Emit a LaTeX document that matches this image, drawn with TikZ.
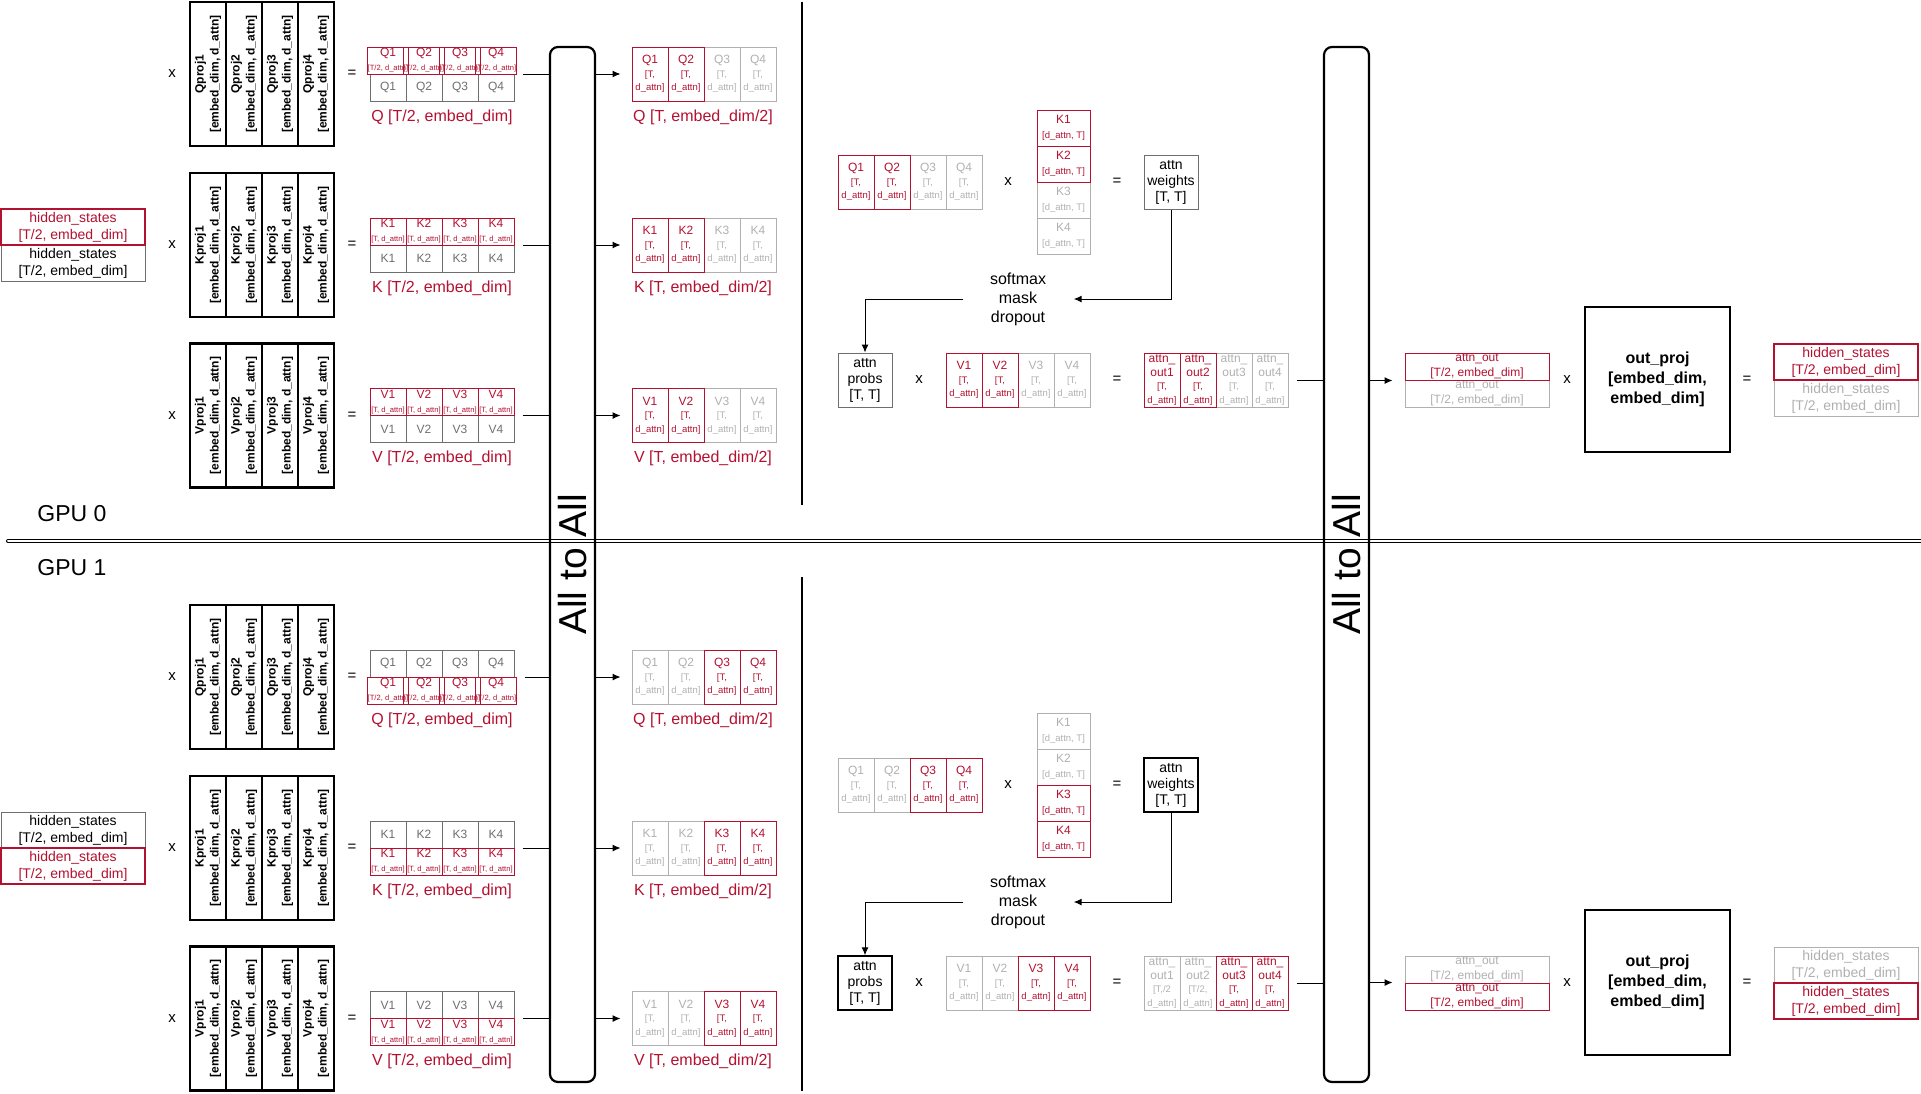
\documentclass[tikz,border=0pt]{standalone}
\usepackage{fontspec}
\setmainfont{Liberation Sans}
\usetikzlibrary{arrows.meta,positioning,fit}

\definecolor{hotred}{RGB}{180,16,48}
\definecolor{midgray}{RGB}{110,110,110}
\definecolor{palegray}{RGB}{176,176,176}

\newcommand{\setpx}[2]{\fontsize{#1}{#2}\selectfont}

\begin{document}
\begin{tikzpicture}[x=1pt,y=-1pt]

\tikzset{
  projcol/.style={draw, line width=2.2pt, rotate=90, minimum width=144pt,
                  minimum height=36pt, inner sep=0pt, align=center,
                  font={\setpx{12}{15}\bfseries}},
  flatcell/.style={draw, line width=1pt, minimum width=36pt, minimum height=27pt,
                  inner sep=0pt, align=center, font={\setpx{12}{14}}},
  tallcell/.style={draw, line width=1pt, minimum width=36pt, minimum height=54pt,
                  inner sep=0pt, align=center, font={\setpx{9.5}{13.5}}},
  keycell/.style={draw, line width=1pt, minimum width=53pt, minimum height=36pt,
                  inner sep=0pt, align=center, font={\setpx{9.5}{15}}},
  hotcell/.style={draw=hotred, text=hotred},
  greycell/.style={draw=midgray, text=midgray},
  palecell/.style={draw=palegray, text=palegray},
  statebox/.style={draw, line width=1pt, minimum width=144pt, minimum height=36pt,
                  inner sep=0pt, align=center, font={\setpx{14}{17}}},
  outbox/.style={draw, line width=1pt, minimum width=144pt, minimum height=27pt,
                  inner sep=0pt, align=center, font={\setpx{12}{15}}},
  attnbox/.style={draw, line width=1pt, minimum width=54pt, minimum height=54pt,
                  inner sep=0pt, align=center, font={\setpx{14}{16}}},
  projbox/.style={draw, line width=2.5pt, minimum width=145pt, minimum height=145pt,
                  inner sep=0pt, align=center, font={\setpx{16}{20}\bfseries}},
  xchg/.style={draw, line width=2.2pt, rounded corners=8pt, minimum width=45pt,
                  minimum height=1035pt, inner sep=0pt},
  xchgtext/.style={rotate=90, inner sep=0pt, font={\setpx{39}{39}}},
  smxtext/.style={align=center, inner sep=0pt, font={\setpx{16}{19}}},
  shapelabel/.style={text=hotred, inner sep=0pt, font={\setpx{16}{19}}},
  op/.style={inner sep=0pt, font={\setpx{15}{15}}},
  gpulabel/.style={inner sep=0pt, font={\setpx{23}{23}}},
  wire/.style={line width=1pt},
  flow/.style={line width=1pt, -{Latex[length=8pt, width=7pt]}},
  divider/.style={line width=1.5pt},
  sepline/.style={double, double distance=2pt, line width=1pt, line cap=round}
}

\newcommand{\projblock}[3]{% name, letter, y centre
  \foreach \i in {1,...,4}
    \node[projcol] (#1\i) at ({172+36*\i},#3) {#2proj\i\\{[embed\_dim, d\_attn]}};
}
\newcommand{\splitrow}[5]{% name, letter, y centre, style, dims line
  \foreach \i in {1,...,4}
    \node[flatcell,#4] (#1\i) at ({352+36*\i},#3) {#2\i#5};
}
\newcommand{\tallrow}[5]{% name, left x, y centre, letter, index/colour
  \foreach \i/\cl in {#5}
    \node[tallcell,draw=\cl,text=\cl] (#1\i) at ({#2-18+36*\i},#3) {{\setpx{12}{13.5}#4\i}\\{[T,}\\{d\_attn]}};
}

\useasboundingbox (0,0) rectangle (1921,1093);

% Separators
\draw[sepline] (8,541) -- (1921,541);
\draw[divider] (802,2) -- (802,505);
\draw[divider] (802,577) -- (802,1091);
\node[gpulabel] (gpu0) at (72,514) {GPU 0};
\node[gpulabel] (gpu1) at (72,568) {GPU 1};

% All to All
\node[xchg] (xchg1) at (572.5,564.5) {};
\node[xchgtext] (xchg1txt) at (xchg1.center) {All to All};
\node[xchg] (xchg2) at (1346.5,564.5) {};
\node[xchgtext] (xchg2txt) at (xchg2.center) {All to All};

% ---------------- GPU 0 ----------------
\node[statebox, draw=midgray] (g0hsb) at (73,263) {hidden\_states\\{[T/2, embed\_dim]}};
\node[statebox, hotcell, line width=2.5pt] (g0hsa) at (73,227) {hidden\_states\\{[T/2, embed\_dim]}};

\foreach \nm/\yc/\dm in {Q/74/{T/2},K/245/T,V/415.5/T} {
  \projblock{g0\nm p}{\nm}{\yc}
  \node[op] (g0\nm x) at (172,\yc) {x};
  \node[op] (g0\nm eq) at (352,\yc) {=};
  \splitrow{g0\nm b}{\nm}{\yc+13.5}{greycell}{}
  \splitrow{g0\nm a}{\nm}{\yc-13.5}{hotcell}{\\{\setpx{7.6}{8}[\dm, d\_attn]}}
  \node[fit=(g0\nm a1)(g0\nm b4), inner sep=0pt] (g0\nm in) {};
  \node[shapelabel] (g0\nm lbl) at (442,\yc+43) {\nm\ [T/2, embed\_dim]};
  \tallrow{g0\nm o}{632}{\yc}{\nm}{3/palegray,4/palegray,1/hotred,2/hotred}
  \node[shapelabel] (g0\nm olbl) at (703,\yc+43) {\nm\ [T, embed\_dim/2]};
  \draw[wire, shorten <=8pt] (g0\nm in.east) -- (g0\nm in.east -| xchg1.west);
  \draw[flow, shorten >=11pt] (g0\nm o1.west -| xchg1.east) -- (g0\nm o1.west);
}

% Attention
\tallrow{g0aq}{838}{182}{Q}{3/palegray,4/palegray,1/hotred,2/hotred}
\node[op] (g0ax) at (1008,182) {x};
\foreach \i/\cl in {3/palegray,4/palegray,1/hotred,2/hotred}
  \node[keycell, draw=\cl, text=\cl] (g0ak\i) at (1063.5,{92+36*\i}) {{\setpx{12}{15}K\i}\\{[d\_attn, T]}};
\node[op] (g0aeq) at (1117,182) {=};
\node[attnbox, draw=midgray] (g0wts) at (1171,182) {attn\\weights\\{[T, T]}};
\node[smxtext] (g0smx) at (1018,299) {softmax\\mask\\dropout};
\node[attnbox, draw=midgray] (g0prb) at (865,380) {attn\\probs\\{[T, T]}};
\node[op] (g0px) at (919,380) {x};
\tallrow{g0av}{946}{380}{V}{3/palegray,4/palegray,1/hotred,2/hotred}
\node[op] (g0peq) at (1117,380) {=};
\foreach \i/\cl/\dd in {3/palegray/{[T,},4/palegray/{[T,},1/hotred/{[T,},2/hotred/{[T,}}
  \node[tallcell, draw=\cl, text=\cl] (g0ao\i) at ({1126+36*\i},380) {{\setpx{12}{13.5}attn\_}\\{\setpx{12}{13.5}out\i}\\{\dd}\\{d\_attn]}};

\draw[flow, shorten >=27.5pt] (g0wts.south) |- (g0smx.east);
\draw[flow, shorten <=26.5pt] (g0smx.west) -| (g0prb.north);

% Output projection
\node[outbox, palecell] (g0aogr) at (1477,393.5) {attn\_out\\{[T/2, embed\_dim]}};
\node[outbox, hotcell] (g0aord) at (1477,366.5) {attn\_out\\{[T/2, embed\_dim]}};
\node[op] (g0ox) at (1567,380) {x};
\node[projbox] (g0proj) at (1657.5,379.5) {out\_proj\\{[embed\_dim,}\\embed\_dim]};
\node[op] (g0oeq) at (1747,380) {=};
\node[statebox, palecell] (g0hogr) at (1846,398) {hidden\_states\\{[T/2, embed\_dim]}};
\node[statebox, hotcell, line width=2.5pt] (g0hord) at (1846,362) {hidden\_states\\{[T/2, embed\_dim]}};

\draw[wire, shorten <=8pt] (g0ao4.east) -- (g0ao4.east -| xchg2.west);
\draw[flow, shorten >=12pt] (g0aord.south west -| xchg2.east) -- (g0aord.south west);

% ---------------- GPU 1 ----------------
\begin{scope}[shift={(0,603)}]
\node[statebox, draw=midgray] (g1hsb) at (73,227) {hidden\_states\\{[T/2, embed\_dim]}};
\node[statebox, hotcell, line width=2.5pt] (g1hsa) at (73,263) {hidden\_states\\{[T/2, embed\_dim]}};

\foreach \nm/\yc/\dm in {Q/74/{T/2},K/245/T,V/415.5/T} {
  \projblock{g1\nm p}{\nm}{\yc}
  \node[op] (g1\nm x) at (172,\yc) {x};
  \node[op] (g1\nm eq) at (352,\yc) {=};
  \splitrow{g1\nm b}{\nm}{\yc-13.5}{greycell}{}
  \splitrow{g1\nm a}{\nm}{\yc+13.5}{hotcell}{\\{\setpx{7.6}{8}[\dm, d\_attn]}}
  \node[fit=(g1\nm b1)(g1\nm a4), inner sep=0pt] (g1\nm in) {};
  \node[shapelabel] (g1\nm lbl) at (442,\yc+43) {\nm\ [T/2, embed\_dim]};
  \tallrow{g1\nm o}{632}{\yc}{\nm}{1/palegray,2/palegray,3/hotred,4/hotred}
  \node[shapelabel] (g1\nm olbl) at (703,\yc+43) {\nm\ [T, embed\_dim/2]};
  \draw[wire, shorten <=8pt] (g1\nm in.east) -- (g1\nm in.east -| xchg1.west);
  \draw[flow, shorten >=11pt] (g1\nm o1.west -| xchg1.east) -- (g1\nm o1.west);
}

% Attention
\tallrow{g1aq}{838}{182}{Q}{1/palegray,2/palegray,3/hotred,4/hotred}
\node[op] (g1ax) at (1008,182) {x};
\foreach \i/\cl in {1/palegray,2/palegray,3/hotred,4/hotred}
  \node[keycell, draw=\cl, text=\cl] (g1ak\i) at (1063.5,{92+36*\i}) {{\setpx{12}{15}K\i}\\{[d\_attn, T]}};
\node[op] (g1aeq) at (1117,182) {=};
\node[attnbox, line width=1.5pt] (g1wts) at (1171,182) {attn\\weights\\{[T, T]}};
\node[smxtext] (g1smx) at (1018,299) {softmax\\mask\\dropout};
\node[attnbox, line width=1.5pt] (g1prb) at (865,380) {attn\\probs\\{[T, T]}};
\node[op] (g1px) at (919,380) {x};
\tallrow{g1av}{946}{380}{V}{1/palegray,2/palegray,3/hotred,4/hotred}
\node[op] (g1peq) at (1117,380) {=};
\foreach \i/\cl/\dd in {1/palegray/{[T,/2},2/palegray/{[T/2,},3/hotred/{[T,},4/hotred/{[T,}}
  \node[tallcell, draw=\cl, text=\cl] (g1ao\i) at ({1126+36*\i},380) {{\setpx{12}{13.5}attn\_}\\{\setpx{12}{13.5}out\i}\\{\dd}\\{d\_attn]}};

\draw[flow, shorten >=27.5pt] (g1wts.south) |- (g1smx.east);
\draw[flow, shorten <=26.5pt] (g1smx.west) -| (g1prb.north);

% Output projection
\node[outbox, palecell] (g1aogr) at (1477,366.5) {attn\_out\\{[T/2, embed\_dim]}};
\node[outbox, hotcell] (g1aord) at (1477,393.5) {attn\_out\\{[T/2, embed\_dim]}};
\node[op] (g1ox) at (1567,380) {x};
\node[projbox] (g1proj) at (1657.5,379.5) {out\_proj\\{[embed\_dim,}\\embed\_dim]};
\node[op] (g1oeq) at (1747,380) {=};
\node[statebox, palecell] (g1hogr) at (1846,362) {hidden\_states\\{[T/2, embed\_dim]}};
\node[statebox, hotcell, line width=2.5pt] (g1hord) at (1846,398) {hidden\_states\\{[T/2, embed\_dim]}};

\draw[wire, shorten <=8pt] (g1ao4.east) -- (g1ao4.east -| xchg2.west);
\draw[flow, shorten >=12pt] (g1aord.north west -| xchg2.east) -- (g1aord.north west);
\end{scope}

\end{tikzpicture}
\end{document}
